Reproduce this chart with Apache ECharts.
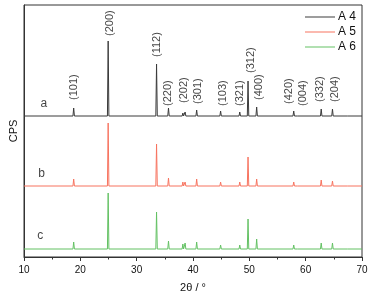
<!DOCTYPE html>
<html><head><meta charset="utf-8">
<script src="https://cdn.jsdelivr.net/npm/echarts@6/dist/echarts.min.js"></script>
<style>html,body{margin:0;padding:0;background:#fff}#c{width:375px;height:301px}</style>
</head><body><div id="c"></div>
<script>
// Peak positions (2θ, degrees) shared by all three patterns
const peakPos = [18.82, 24.94, 33.53, 35.65, 38.2, 38.6, 40.65, 44.9, 48.3, 49.77, 51.3, 57.88, 58.65, 62.76, 64.76, 67.6];
// Peak intensities above each pattern's baseline (arb. units)
const a4Heights = [80, 750, 520, 80, 30, 40, 60, 50, 40, 350, 90, 50, 20, 70, 70, 20];
const a5Heights = [70, 630, 420, 80, 40, 40, 70, 40, 40, 290, 70, 40, 20, 60, 50, 10];
const a6Heights = [70, 560, 370, 80, 50, 60, 70, 40, 40, 300, 100, 40, 20, 60, 60, 20];
// Vertical offsets of the stacked patterns
const a4Offset = 1410, a5Offset = 710, a6Offset = 80;
const seriesNames = ['A 4', 'A 5', 'A 6'];
// Miller index annotations (label x, label bottom y)
const hklNames = ['(101)', '(200)', '(112)', '(220)', '(202)', '(301)', '(103)', '(321)', '(312)', '(400)', '(420)', '(004)', '(332)', '(204)'];
const hklX = [18.95, 25.3, 33.65, 35.5, 38.36, 40.83, 45.24, 48.35, 50.24, 51.7, 57.0, 59.6, 62.5, 65.2];
const hklY = [1570, 2210, 2000, 1510, 1540, 1530, 1510, 1510, 1840, 1570, 1530, 1510, 1550, 1550];
// Pattern letters
const tagNames = ['a', 'b', 'c'];
const tagX = [13.5, 13.1, 12.9];
const tagY = [1530, 830, 210];

const xMin = 10, xMax = 70, halfWidth = 0.13;
function pattern(heights, offset) {
  const pts = [[xMin, offset]];
  peakPos.forEach((p, i) => {
    pts.push([p - halfWidth, offset]);
    pts.push([p, offset + heights[i]]);
    pts.push([p + halfWidth, offset]);
  });
  pts.push([xMax, offset]);
  return pts;
}
const colors = ['#3a3a3a', '#f7735f', '#63c163'];
const font = 'Liberation Sans, Arial, sans-serif';
const chart = echarts.init(document.getElementById('c'), null, {renderer: 'canvas'});
const lineSeries = [[a4Heights, a4Offset], [a5Heights, a5Offset], [a6Heights, a6Offset]].map((d, i) => ({
  name: seriesNames[i], type: 'line', data: pattern(d[0], d[1]), showSymbol: false, symbol: 'none',
  lineStyle: {width: 1, color: colors[i]}, itemStyle: {color: colors[i]}, animation: false, z: 3 - i
}));
chart.setOption({
  animation: false,
  grid: {left: 22, right: 13, top: 5, bottom: 44, show: true, borderColor: '#333', borderWidth: 1, backgroundColor: 'transparent'},
  legend: {
    orient: 'vertical', left: 305, top: 10, padding: 0, itemWidth: 30, itemHeight: 1, itemGap: 1, icon: 'rect',
    data: seriesNames, textStyle: {fontFamily: font, fontSize: 12, color: '#111', lineHeight: 14, padding: [0, 0, 0, -2]}
  },
  xAxis: {
    type: 'value', min: xMin, max: xMax, interval: 10,
    axisLine: {lineStyle: {color: '#333', width: 1}},
    axisTick: {show: true, inside: false, length: 4, lineStyle: {color: '#333'}},
    minorTick: {show: true, splitNumber: 2, length: 2.5, lineStyle: {color: '#333'}},
    splitLine: {show: false},
    axisLabel: {fontFamily: font, fontSize: 10, color: '#111', margin: 8},
    name: '2θ / °', nameLocation: 'middle', nameGap: 25,
    nameTextStyle: {fontFamily: font, fontSize: 11, color: '#111'}
  },
  yAxis: {
    type: 'value', min: 0, max: 2520,
    axisLine: {show: true, lineStyle: {color: '#333', width: 1}},
    axisTick: {show: false}, axisLabel: {show: false}, splitLine: {show: false},
    name: 'CPS', nameLocation: 'middle', nameGap: 5,
    nameTextStyle: {fontFamily: font, fontSize: 11, color: '#111'}
  },
  series: lineSeries.concat([
    {
      type: 'scatter', symbolSize: 0, silent: true,
      data: hklX.map((x, i) => ({value: [x, hklY[i]], name: hklNames[i]})),
      label: {show: true, formatter: p => p.name, position: 'inside', rotate: 90, align: 'left', verticalAlign: 'middle',
        fontFamily: font, fontSize: 11, color: '#111'}
    },
    {
      type: 'scatter', symbolSize: 0, silent: true,
      data: tagX.map((x, i) => ({value: [x, tagY[i]], name: tagNames[i]})),
      label: {show: true, formatter: p => p.name, position: 'inside', align: 'center', verticalAlign: 'middle',
        fontFamily: font, fontSize: 12, color: '#111'}
    }
  ])
});
</script></body></html>
